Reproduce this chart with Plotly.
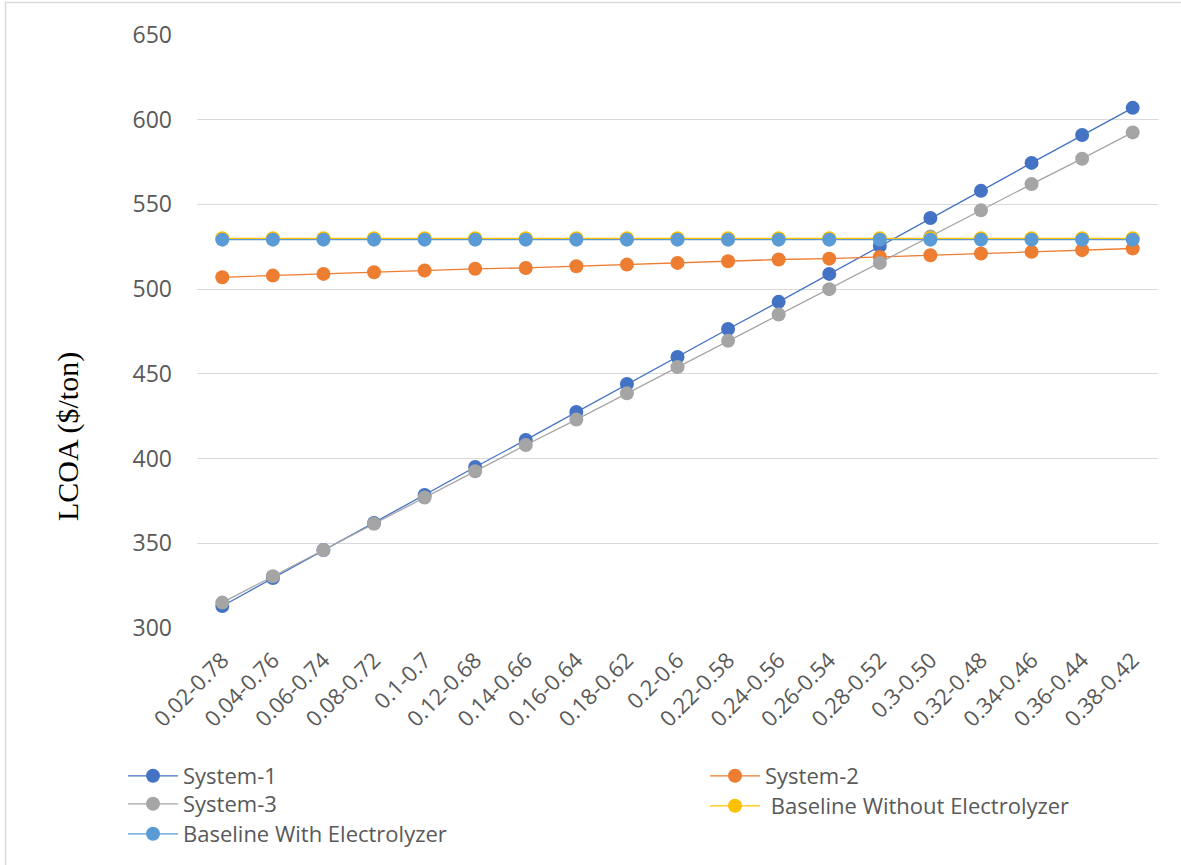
import plotly.graph_objects as go

# Hydrogen split ranges on the category axis
categories = [
    "0.02-0.78", "0.04-0.76", "0.06-0.74", "0.08-0.72", "0.1-0.7",
    "0.12-0.68", "0.14-0.66", "0.16-0.64", "0.18-0.62", "0.2-0.6",
    "0.22-0.58", "0.24-0.56", "0.26-0.54", "0.28-0.52", "0.3-0.50",
    "0.32-0.48", "0.34-0.46", "0.36-0.44", "0.38-0.42",
]

# Levelized cost of ammonia, $/ton
system_1 = [313, 329.5, 346, 362, 378.5, 395, 411, 427.5, 444, 460,
            476.5, 492.5, 509, 525.5, 542, 558, 574.5, 591, 607]
system_2 = [507, 508, 509, 510, 511, 512, 512.5, 513.5, 514.5, 515.5,
            516.5, 517.5, 518, 519, 520, 521, 522, 523, 524]
system_3 = [315, 330.5, 346, 361.5, 377, 392.5, 408, 423, 438.5, 454,
            469.5, 485, 500, 515.5, 531, 546.5, 562, 577, 592.5]
baseline_without = [530] * len(categories)
baseline_with = [529.2] * len(categories)

y_ticks = [300, 350, 400, 450, 500, 550, 600, 650]

W, H = 1181, 865
L, R, T, B = 197, 23, 35, 237
pw, ph = W - L - R, H - T - B

def px(x):
    return (x - L) / pw

def py(y):
    return (H - B - y) / ph

text_font = dict(family="Open Sans, Calibri, sans-serif", size=23, color="#595959")
legend_font = dict(family="Open Sans, Calibri, sans-serif", size=22, color="#595959")

# name, values, colour, legend id, legend box position (left, top) in pixels
series = [
    ("System-1", system_1, "#4472C4", "legend", (123, 755)),
    ("System-2", system_2, "#ED7D31", "legend2", (705, 755)),
    ("System-3", system_3, "#A5A5A5", "legend3", (123, 783)),
    (" Baseline Without Electrolyzer", baseline_without, "#FFC000", "legend4", (705, 785)),
    ("Baseline With Electrolyzer", baseline_with, "#5B9BD5", "legend5", (123, 813)),
]

fig = go.Figure()
legends = {}
for name, values, color, leg, (lx, ly) in series:
    fig.add_trace(go.Scatter(
        x=categories, y=values, name=name, mode="lines+markers",
        line=dict(color=color, width=1.3),
        marker=dict(color=color, size=14),
        legend=leg,
    ))
    legends[leg] = dict(
        x=lx / W, y=1 - ly / H, xref="container", yref="container",
        xanchor="left", yanchor="top", orientation="v",
        itemwidth=50, font=legend_font, bgcolor="rgba(0,0,0,0)",
    )

fig.update_layout(
    width=W, height=H,
    margin=dict(l=L, r=R, t=T, b=B, autoexpand=False),
    paper_bgcolor="white", plot_bgcolor="white",
    font=text_font,
    showlegend=True,
    xaxis=dict(
        type="category", range=[-0.5, len(categories) - 0.5],
        tickangle=-45, showgrid=False, zeroline=False,
        showline=False, ticks="", tickfont=dict(size=22),
        ticklabelstandoff=14, automargin=False,
    ),
    yaxis=dict(
        range=[300, 650], tickvals=y_ticks, showgrid=True,
        gridcolor="#D9D9D9", gridwidth=1.3, zeroline=False, showline=False,
        ticks="", tickfont=dict(size=23), ticklabelstandoff=24,
        automargin=False,
    ),
    annotations=[dict(
        text="LCOA ($/ton)", xref="paper", yref="paper",
        x=px(68), y=py(437), xanchor="center", yanchor="middle",
        showarrow=False, textangle=-90,
        font=dict(family="Liberation Serif, Times New Roman, serif",
                  size=30, color="black"),
    )],
    shapes=[dict(
        type="rect", xref="paper", yref="paper",
        x0=px(5.5), x1=px(W + 10), y0=py(H + 10), y1=py(2.5),
        line=dict(color="#D9D9D9", width=1.5), fillcolor="rgba(0,0,0,0)",
        layer="below",
    )],
    **legends,
)

fig.write_html("out.html")
